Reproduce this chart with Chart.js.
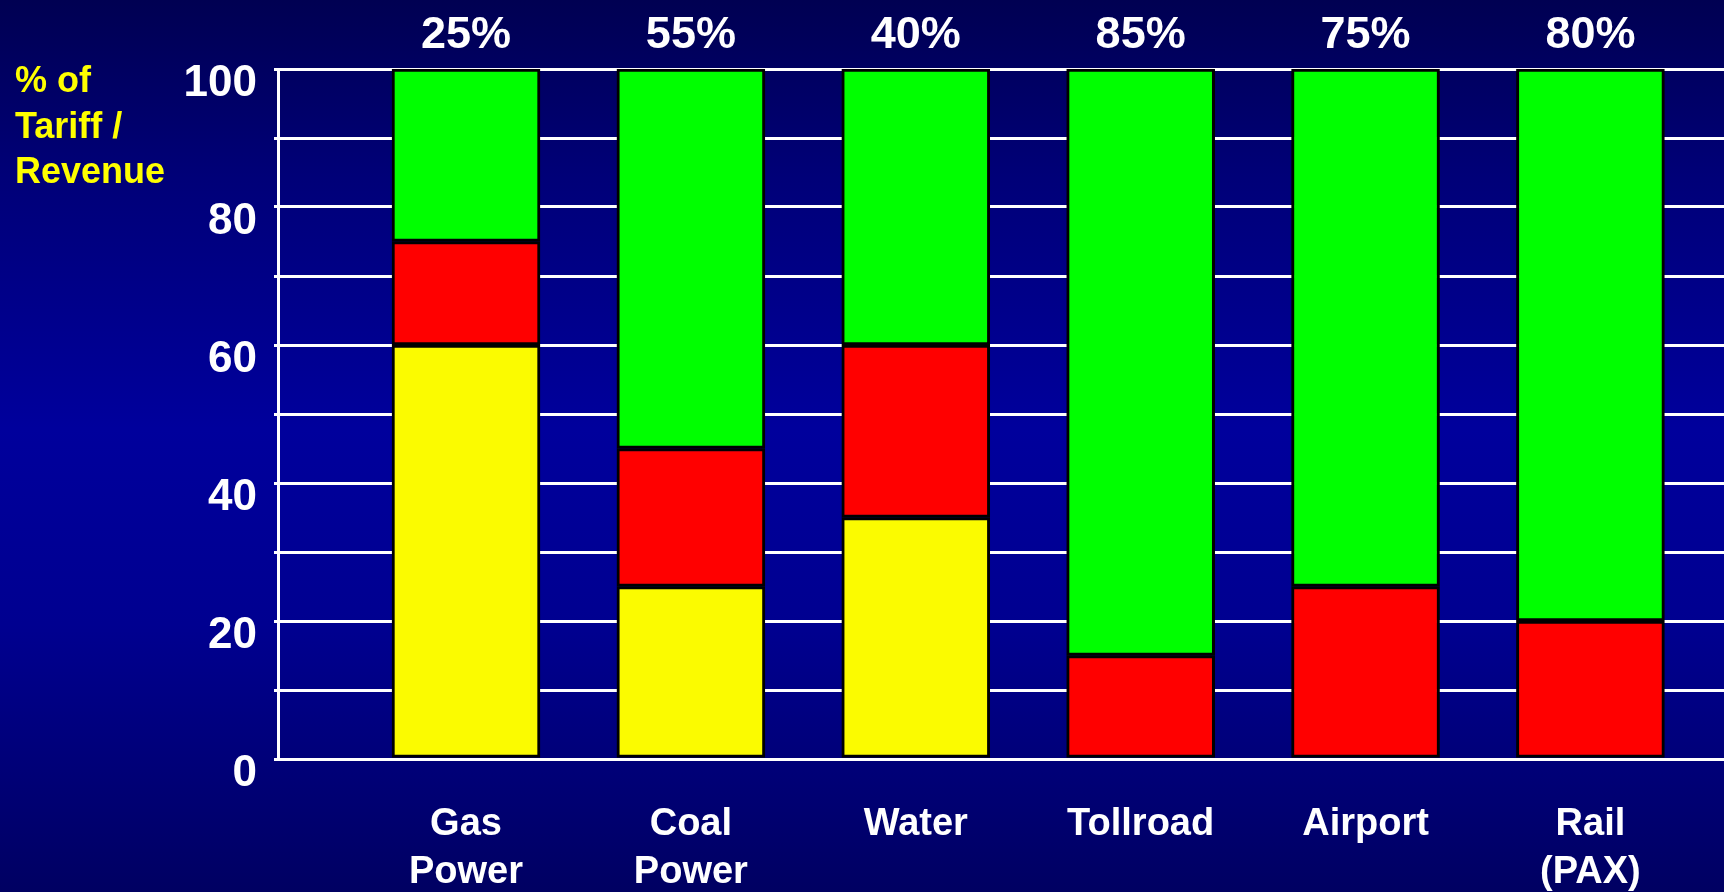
<!DOCTYPE html>
<html>
<head>
<meta charset="utf-8">
<title>% of Tariff / Revenue</title>
<script src="https://cdn.jsdelivr.net/npm/chart.js@4.4.1/dist/chart.umd.min.js"></script>
<style>
  html, body { margin: 0; padding: 0; }
  body {
    width: 1724px; height: 892px; overflow: hidden;
    background: linear-gradient(to bottom, #000052 0%, #000078 20%, #00009c 48%, #000090 70%, #000062 100%);
  }
  #wrap { position: relative; width: 1724px; height: 892px; }
</style>
</head>
<body>
<div id="wrap"><canvas id="grafico"></canvas></div>
<script>
// sectores y reparto del ingreso (%)
const categorias = [['Gas', 'Power'], ['Coal', 'Power'], ['Water'], ['Tollroad'], ['Airport'], ['Rail', '(PAX)']];
const tramoAmarillo = [60, 25, 35, 0, 0, 0];
const tramoRojo     = [15, 20, 25, 15, 25, 20];
const tramoVerde    = [25, 55, 40, 85, 75, 80];
const ticksEje      = [0, 20, 40, 60, 80, 100];
const tituloEje     = ['% of', 'Tariff /', 'Revenue'];

const FUENTE = '"Liberation Sans", Arial, sans-serif';

const aPuntos = (arr) => arr.map((v, i) => ({ x: i, y: v }));

const serie = (data, color) => ({
  data: aPuntos(data),
  backgroundColor: color,
  borderColor: '#000',
  borderWidth: 3,
  borderSkipped: false,
  barThickness: 148
});

// textos: % arriba, categorias abajo, titulo del eje
const textos = {
  id: 'textos',
  afterDatasetsDraw(chart) {
    const { ctx, chartArea } = chart;
    const barras = chart.getDatasetMeta(2).data;
    ctx.save();
    ctx.fillStyle = '#ffffff';
    ctx.textAlign = 'center';
    ctx.textBaseline = 'alphabetic';
    ctx.font = `bold 45px ${FUENTE}`;
    barras.forEach((b, i) => ctx.fillText(`${tramoVerde[i]}%`, b.x, chartArea.top - 21));
    ctx.font = `bold 38px ${FUENTE}`;
    barras.forEach((b, i) => {
      categorias[i].forEach((linea, k) => ctx.fillText(linea, b.x, chartArea.bottom + 76 + k * 48));
    });
    ctx.fillStyle = '#ffff00';
    ctx.textAlign = 'left';
    ctx.font = `bold 36px ${FUENTE}`;
    tituloEje.forEach((linea, k) => ctx.fillText(linea, 15, 92 + k * 45.5));
    ctx.restore();
  }
};

new Chart(document.getElementById('grafico'), {
  type: 'bar',
  data: {
    datasets: [
      serie(tramoAmarillo, '#fbfb00'),
      serie(tramoRojo, '#ff0000'),
      serie(tramoVerde, '#00ff00')
    ]
  },
  options: {
    responsive: true,
    maintainAspectRatio: false,
    animation: false,
    layout: { padding: { top: 69, bottom: 133, left: 0, right: 0 } },
    plugins: { legend: { display: false }, tooltip: { enabled: false } },
    scales: {
      x: {
        type: 'linear',
        stacked: true,
        offset: false,
        min: -0.836,
        max: 5.594,
        display: false
      },
      y: {
        stacked: true,
        min: 0,
        max: 100,
        afterFit: (scale) => { scale.width = 278; },
        border: { display: true, color: '#ffffff', width: 3 },
        grid: { color: '#ffffff', lineWidth: 3, tickLength: 4, drawTicks: true },
        ticks: {
          stepSize: 10,
          color: '#ffffff',
          padding: 17,
          labelOffset: 15,
          font: { family: FUENTE, size: 44, weight: 'bold' },
          callback: (v) => ticksEje.includes(v) ? String(v) : ''
        }
      }
    }
  },
  plugins: [textos]
});
</script>
</body>
</html>
